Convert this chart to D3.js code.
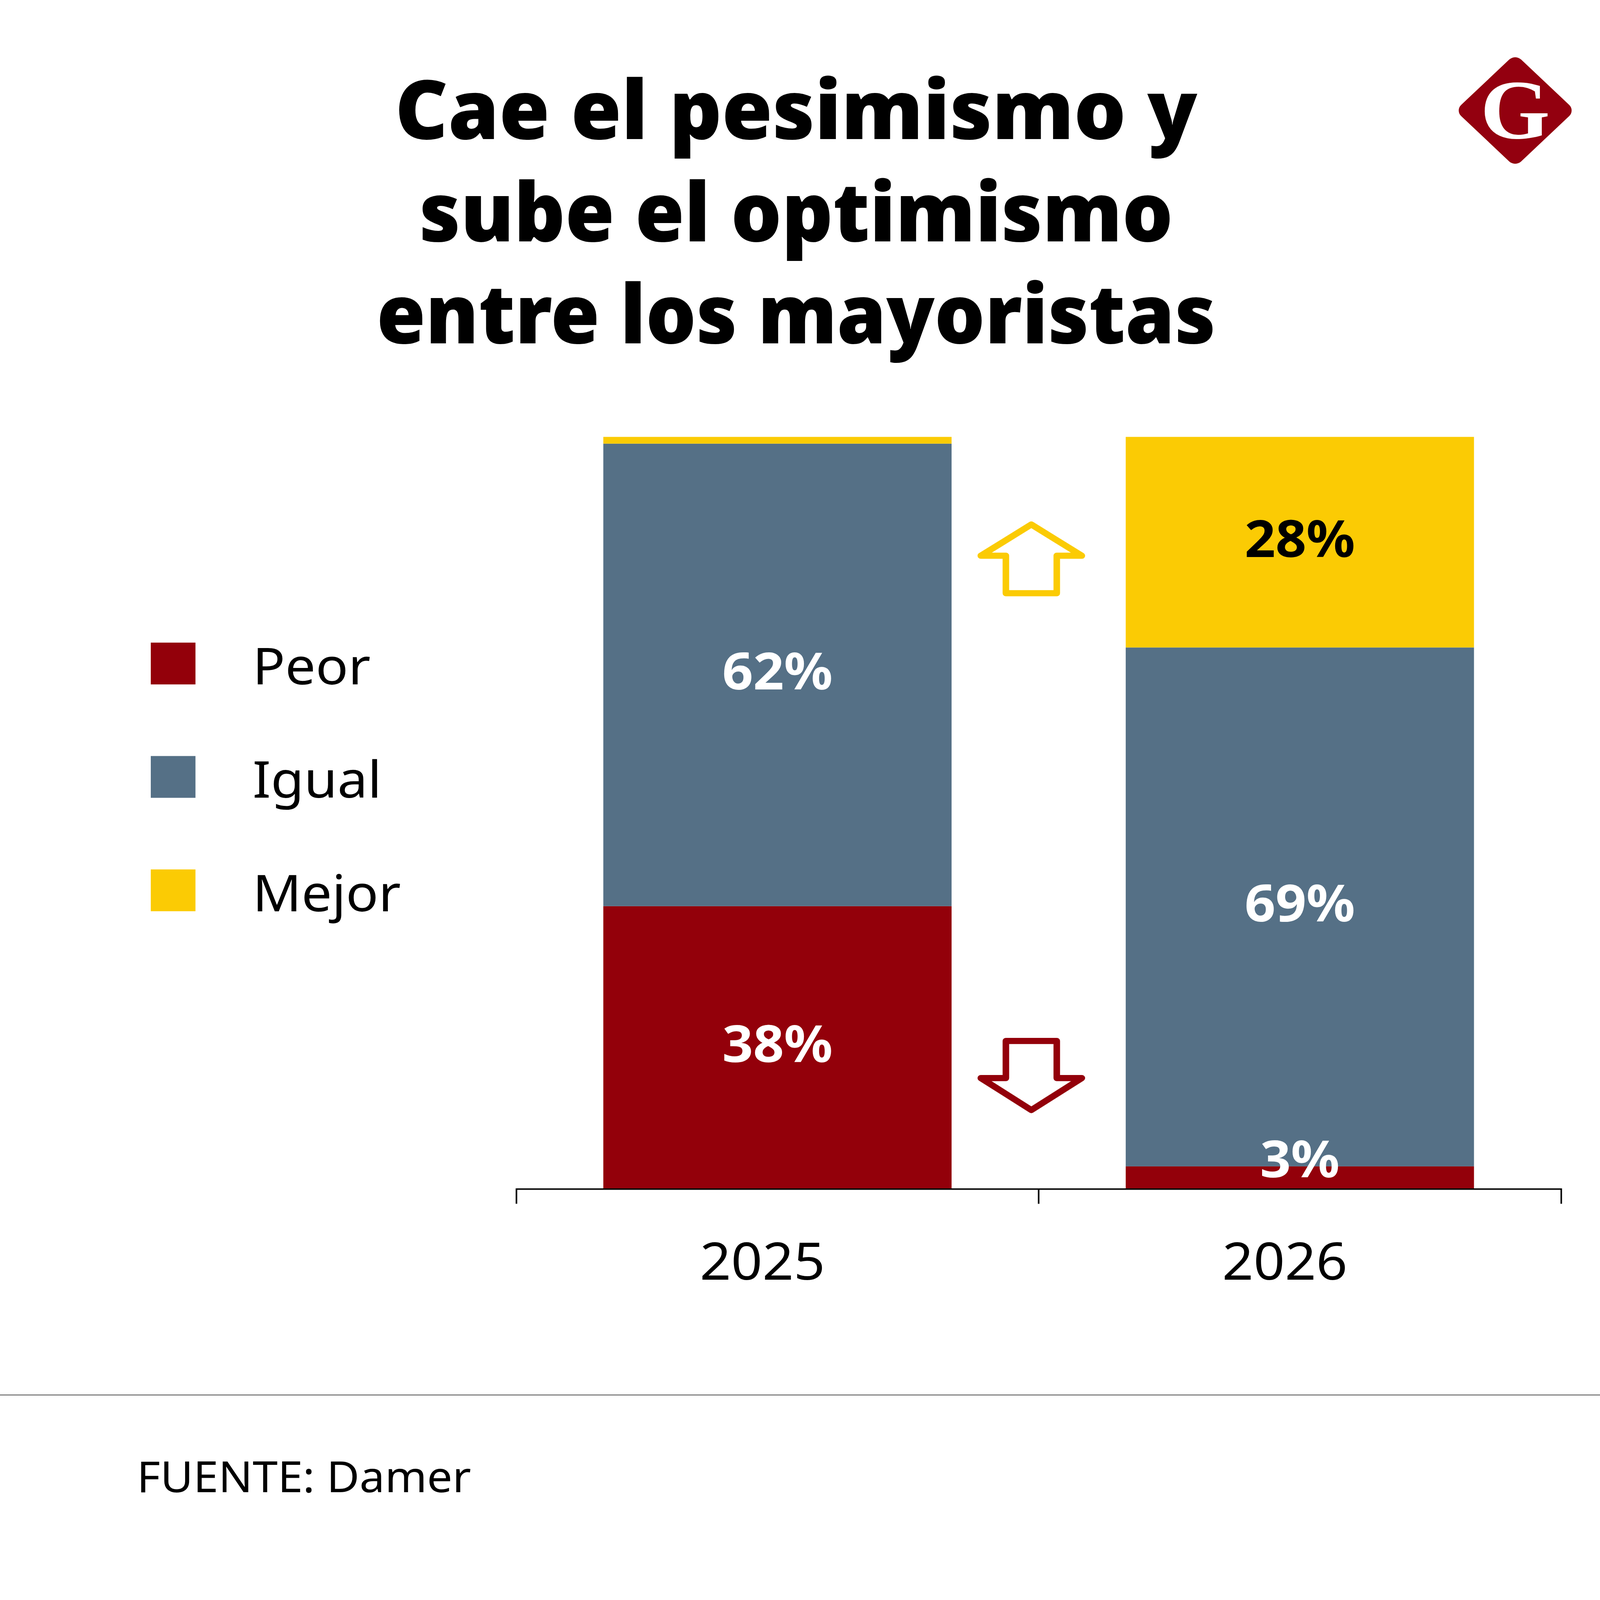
<!DOCTYPE html>
<html>
<head>
<meta charset="utf-8">
<script src="https://cdn.jsdelivr.net/npm/d3@7"></script>
<style>
  html, body { margin: 0; padding: 0; background: #fff; overflow: hidden; width: 100%; height: 100%; }
  svg { display: block; position: fixed; left: 0; top: 0; }
</style>
</head>
<body>
<div id="chart"></div>
<script>
// Data
const years = ["2025", "2026"];
const categories = ["Peor", "Igual", "Mejor"];
const peor = [37.6, 3];
const igual = [61.5, 69];
const mejor = [0.9, 28];
const titleLines = ["Cae el pesimismo y", "sube el optimismo", "entre los mayoristas"];
const titleWidths = [2081, 1955, 2176];
const source = "FUENTE: Damer";

const colors = { Peor: "#93000a", Igual: "#557086", Mejor: "#fbcb04" };
const labelColors = { Peor: "#fff", Igual: "#fff", Mejor: "#000" };

const width = 4150;
const height = 4402;
const font = "'Noto Sans', sans-serif";

const table = years.map((y, i) => ({ year: y, Peor: peor[i], Igual: igual[i], Mejor: mejor[i] }));

// fill the viewport, whatever its real size
const svg = d3.select("#chart")
    .append("svg")
    .attr("width", "100%")
    .attr("height", "100%")
    .style("width", "100vw")
    .style("height", "100vh")
    .attr("preserveAspectRatio", "none")
    .attr("viewBox", [0, 0, width, height]);

svg.append("rect").attr("width", width).attr("height", height).attr("fill", "#fff");

// ---------- title ----------
svg.append("g")
    .selectAll("text")
    .data(titleLines)
    .join("text")
    .attr("x", 2065)
    .attr("y", (d, i) => 383 + i * 281)
    .attr("text-anchor", "middle")
    .attr("font-family", font)
    .attr("font-weight", 900)
    .attr("font-size", 226)
    .attr("textLength", (d, i) => titleWidths[i])
    .attr("lengthAdjust", "spacingAndGlyphs")
    .attr("fill", "#000")
    .text(d => d);

// ---------- logo ----------
const logo = svg.append("g").attr("transform", "translate(3930,304)");
logo.append("rect")
    .attr("x", -110).attr("y", -110)
    .attr("width", 220).attr("height", 220)
    .attr("rx", 22)
    .attr("transform", "rotate(45)")
    .attr("fill", "#93000f");
logo.append("text")
    .attr("text-anchor", "middle")
    .attr("y", 76)
    .attr("font-family", "'Liberation Serif', serif")
    .attr("font-weight", 700)
    .attr("font-size", 232)
    .attr("fill", "#fff")
    .text("G");

// ---------- scales ----------
const x = d3.scaleBand()
    .domain(years)
    .range([1339, 4049])
    .padding(0);

const y = d3.scaleLinear()
    .domain([0, 100])
    .range([3271, 1202]);

const barW = x.bandwidth() * 2 / 3;
const barOff = (x.bandwidth() - barW) / 2;

const series = d3.stack().keys(categories)(table);

// ---------- bars ----------
const layer = svg.append("g")
    .selectAll("g")
    .data(series)
    .join("g")
    .attr("fill", d => colors[d.key]);

layer.selectAll("rect")
    .data(d => d)
    .join("rect")
    .attr("x", d => x(d.data.year) + barOff)
    .attr("width", barW)
    .attr("y", d => y(d[1]))
    .attr("height", d => y(d[0]) - y(d[1]));

// ---------- value labels ----------
const labelFs = 140;
series.forEach(s => {
    svg.append("g")
        .selectAll("text")
        .data(s.filter(d => d.data[s.key] >= 2))
        .join("text")
        .attr("x", d => x(d.data.year) + x.bandwidth() / 2)
        .attr("y", d => Math.min((y(d[0]) + y(d[1])) / 2 - 10, y(0) - 82) + labelFs * 0.36)
        .attr("text-anchor", "middle")
        .attr("font-family", font)
        .attr("font-weight", 700)
        .attr("font-size", labelFs)
        .attr("fill", labelColors[s.key])
        .text(d => Math.round(d.data[s.key]) + "%");
});

// ---------- axis ----------
const axis = svg.append("g")
    .attr("transform", `translate(0,${y(0)})`)
    .call(d3.axisBottom(x).tickSizeInner(0).tickSizeOuter(41).tickPadding(0));

axis.select(".domain").attr("stroke", "#000").attr("stroke-width", 4);
axis.selectAll(".tick text")
    .attr("x", -39)
    .attr("y", 250)
    .attr("dy", null)
    .attr("font-family", font)
    .attr("font-size", 142)
    .attr("fill", "#000");

// boundary ticks between bands
axis.selectAll(".edge")
    .data(years.slice(1))
    .join("line")
    .attr("class", "edge")
    .attr("x1", d => x(d)).attr("x2", d => x(d))
    .attr("y1", 0).attr("y2", 41)
    .attr("stroke", "#000")
    .attr("stroke-width", 4);

// ---------- change arrows ----------
const arrowX = x(years[1]) - 19;
function arrowPath(cx, tipY, wingY, endY) {
    return `M${cx},${tipY} L${cx + 131},${wingY} L${cx + 66},${wingY} L${cx + 66},${endY}` +
        ` L${cx - 66},${endY} L${cx - 66},${wingY} L${cx - 131},${wingY} Z`;
}
svg.append("path")
    .attr("d", arrowPath(arrowX, 1443, 1529, 1632))
    .attr("fill", "none")
    .attr("stroke", colors.Mejor)
    .attr("stroke-width", 17)
    .attr("stroke-linejoin", "round");
svg.append("path")
    .attr("d", arrowPath(arrowX, 3054, 2966, 2864))
    .attr("fill", "none")
    .attr("stroke", colors.Peor)
    .attr("stroke-width", 17)
    .attr("stroke-linejoin", "round");

// ---------- legend ----------
const legend = svg.append("g")
    .selectAll("g")
    .data(categories)
    .join("g")
    .attr("transform", (d, i) => `translate(391,${1768 + i * 312})`);

legend.append("rect")
    .attr("width", 116)
    .attr("height", 115)
    .attr("fill", d => colors[d]);

legend.append("text")
    .attr("x", 264)
    .attr("y", 115)
    .attr("font-family", font)
    .attr("font-size", 140)
    .attr("fill", "#000")
    .text(d => d);

// ---------- footer ----------
svg.append("line")
    .attr("x1", 0).attr("x2", width)
    .attr("y1", 3838).attr("y2", 3838)
    .attr("stroke", "#777")
    .attr("stroke-width", 3);

svg.append("text")
    .attr("x", 355)
    .attr("y", 4105)
    .attr("font-family", font)
    .attr("font-size", 117)
    .attr("fill", "#000")
    .text(source);
</script>
</body>
</html>
